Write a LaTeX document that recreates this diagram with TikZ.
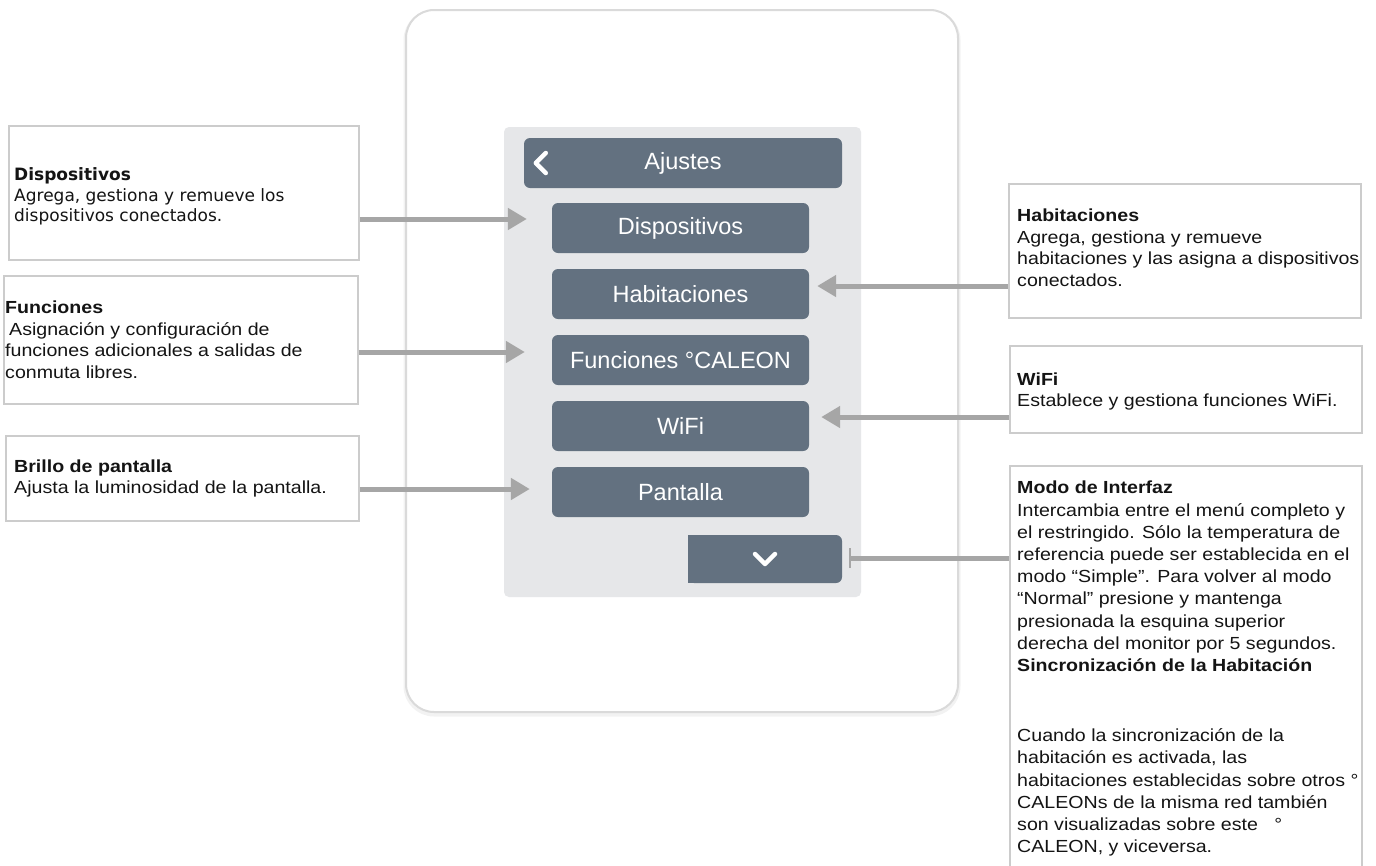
\documentclass[tikz,border=0pt]{standalone}
\usepackage{fontspec}
\setmainfont{Liberation Sans}[FakeStretch=1.12]
\newfontfamily\btnfont{Liberation Sans}
\newfontfamily\verdfont{DejaVu Sans}
\usetikzlibrary{arrows.meta,positioning}

\definecolor{btncol}{RGB}{99,113,128}
\definecolor{panelgray}{RGB}{230,231,233}
\definecolor{conngray}{RGB}{166,166,166}
\definecolor{boxline}{RGB}{204,204,204}
\definecolor{phoneline}{RGB}{218,218,218}
\definecolor{txtcol}{RGB}{20,20,20}

\tikzset{
  btn/.style={fill=btncol, rounded corners=6pt, minimum width=257pt, minimum height=50pt,
    text=white, font=\btnfont\fontsize{23.5}{27}\selectfont, inner sep=0pt},
  infobox/.style={draw=boxline, line width=1.5pt, fill=white, anchor=north west, inner sep=0pt},
  infotext/.style={anchor=west, align=left, inner sep=0pt, text=txtcol,
    font=\fontsize{17.5}{21.5}\selectfont},
  conn/.style={draw=conngray, line width=5pt, -{Triangle[length=19pt,width=21pt]}},
  conntick/.style={draw=conngray, line width=5pt, -{Bar[width=20pt,line width=2pt]}},
  chev/.style={draw=white, line width=4.5pt, line cap=round, line join=round},
}

\begin{document}
\begin{tikzpicture}[x=1pt, y=-1pt]
\useasboundingbox (0,0) rectangle (1376,865);
\clip (0,0) rectangle (1376,865);

% Monitor frame
\draw[black!5, line width=5pt, rounded corners=28pt] (406,12) rectangle (958,714);
\draw[phoneline, line width=2pt, rounded corners=28pt, fill=white] (406,10) rectangle (958,712);
\fill[panelgray, rounded corners=5pt] (504,127) rectangle (861,597);

% Menu
\node[btn, minimum width=318pt] (title) at (683,163) {Ajustes};
\draw[chev] ([xshift=22pt,yshift=10pt]title.west) -- ([xshift=12pt]title.west)
  -- ([xshift=22pt,yshift=-10pt]title.west);

\foreach \name/\txt [count=\i] in {disp/Dispositivos, hab/Habitaciones,
    func/Funciones °CALEON, wifi/WiFi, pant/Pantalla}
  \node[btn] (\name) at (680.5,162+66*\i) {\txt};

\node[btn, minimum width=154pt, minimum height=48pt] (down) at (765,559) {};
\fill[btncol] (down.north west) rectangle ([xshift=10pt]down.south west);
\draw[chev] ([xshift=-10pt,yshift=5pt]down.center) -- ([yshift=-5pt]down.center)
  -- ([xshift=10pt,yshift=5pt]down.center);

% Left notes
\node[infobox, minimum width=350pt, minimum height=134pt] (dispbox) at (8,125) {};
\node[infotext, font=\verdfont\fontsize{17}{20.5}\selectfont] (disptext)
  at ([xshift=6pt,yshift=-4pt]dispbox.west)
  {{\bfseries Dispositivos}\\
   Agrega, gestiona y remueve los\\
   dispositivos conectados.};

\node[infobox, minimum width=354pt, minimum height=128pt] (funcbox) at (3,275) {};
\node[infotext] (functext) at ([xshift=2pt]funcbox.west)
  {{\bfseries Funciones}\\
   \hspace*{4pt}Asignación y configuración de\\
   funciones adicionales a salidas de\\
   conmuta libres.};

\node[infobox, minimum width=353pt, minimum height=85pt] (pantbox) at (5,435) {};
\node[infotext] (panttext) at ([xshift=9pt]pantbox.west)
  {{\bfseries Brillo de pantalla}\\
   Ajusta la luminosidad de la pantalla.};

% Right notes
\node[infobox, minimum width=352pt, minimum height=134pt] (habbox) at (1008,183) {};
\node[infotext] (habtext) at ([xshift=9pt,yshift=3pt]habbox.west)
  {{\bfseries Habitaciones}\\
   Agrega, gestiona y remueve\\
   habitaciones y las asigna a dispositivos\\
   conectados.};

\node[infobox, minimum width=352pt, minimum height=87pt] (wifibox) at (1009,345) {};
\node[infotext] (wifitext) at ([xshift=8pt,yshift=-2pt]wifibox.west)
  {{\bfseries WiFi}\\
   Establece y gestiona funciones WiFi.};

\node[infobox, minimum width=352pt, minimum height=420pt] (modobox) at (1009,465) {};
\node[infotext, anchor=north west, font=\fontsize{17.5}{22.2}\selectfont] (modotext)
  at ([xshift=8pt,yshift=-16pt]modobox.north west)
  {{\bfseries Modo de Interfaz}\\
   Intercambia entre el menú completo y\\
   el restringido. Sólo la temperatura de\\
   referencia puede ser establecida en el\\
   modo “Simple”. Para volver al modo\\
   “Normal” presione y mantenga\\
   presionada la esquina superior\\
   derecha del monitor por 5 segundos.\\
   {\bfseries Sincronización de la Habitación}\\[48pt]
   Cuando la sincronización de la\\
   habitación es activada, las\\
   habitaciones establecidas sobre otros °\\
   CALEONs de la misma red también\\
   son visualizadas sobre este \ \ °\\
   CALEON, y viceversa.};

% Connectors
\coordinate (dispin) at ([xshift=-25pt,yshift=9pt]disp.west);
\coordinate (funcin) at ([xshift=-27pt,yshift=8pt]func.west);
\coordinate (pantin) at ([xshift=-22pt,yshift=3pt]pant.west);
\coordinate (habin) at ([xshift=8pt,yshift=8pt]hab.east);
\coordinate (wifiin) at ([xshift=12pt,yshift=9pt]wifi.east);
\coordinate (downin) at ([xshift=7pt,yshift=1pt]down.east);

\draw[conn] (dispbox.east |- dispin) -- (dispin);
\draw[conn] (funcbox.east |- funcin) -- (funcin);
\draw[conn] (pantbox.east |- pantin) -- (pantin);
\draw[conn] (habbox.west |- habin) -- (habin);
\draw[conn] (wifibox.west |- wifiin) -- (wifiin);
\draw[conntick] (modobox.west |- downin) -- (downin);

\end{tikzpicture}
\end{document}
